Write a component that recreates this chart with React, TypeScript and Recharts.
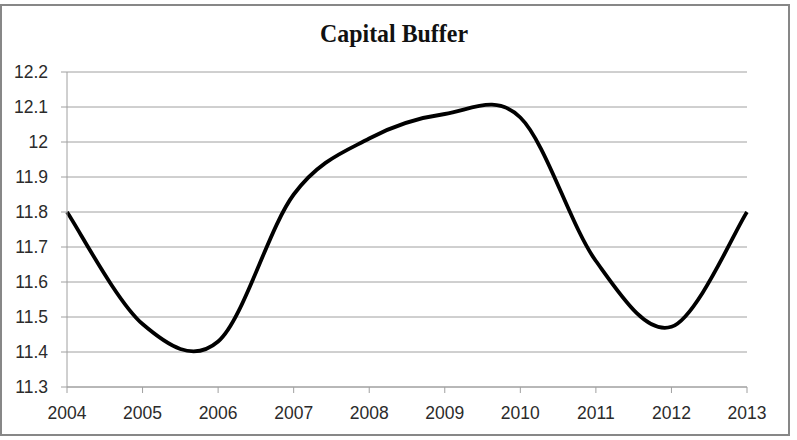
import React from "react";
import { LineChart, Line, XAxis, YAxis, CartesianGrid } from "recharts";

const years = ["2004", "2005", "2006", "2007", "2008", "2009", "2010", "2011", "2012", "2013"];
const capitalBuffer = [11.8, 11.48, 11.43, 11.85, 12.01, 12.08, 12.07, 11.66, 11.472, 11.8];
const yTicks = [11.3, 11.4, 11.5, 11.6, 11.7, 11.8, 11.9, 12, 12.1, 12.2];
const title = "Capital Buffer";

const data = years.map((y, i) => ({ year: y, value: capitalBuffer[i] }));

// Excel-style smoothed line (Catmull-Rom Bezier through the data points)
function excelSmooth(context: any) {
  let xs: number[] = [];
  let ys: number[] = [];
  return {
    areaStart() {},
    areaEnd() {},
    lineStart() {
      xs = [];
      ys = [];
    },
    point(x: number, y: number) {
      xs.push(+x);
      ys.push(+y);
    },
    lineEnd() {
      const n = xs.length;
      if (!n) return;
      context.moveTo(xs[0], ys[0]);
      for (let i = 0; i < n - 1; i++) {
        const i0 = Math.max(i - 1, 0);
        const i3 = Math.min(i + 2, n - 1);
        const c1x = xs[i] + (xs[i + 1] - xs[i0]) / 6;
        const c1y = ys[i] + (ys[i + 1] - ys[i0]) / 6;
        const c2x = xs[i + 1] - (xs[i3] - xs[i]) / 6;
        const c2y = ys[i + 1] - (ys[i3] - ys[i]) / 6;
        context.bezierCurveTo(c1x, c1y, c2x, c2y, xs[i + 1], ys[i + 1]);
      }
    },
  };
}

const FONT = "'Liberation Sans', Arial, sans-serif";
const GRID = "#a0a0a0";
const TEXT = "#2b2b2b";

export default function App() {
  return (
    <div style={{ position: "absolute", left: 0, top: 0, width: 797, height: 440, background: "#fff" }}>
      <LineChart
        width={797}
        height={440}
        data={data}
        margin={{ top: 72, right: 50, bottom: 23, left: 7 }}
      >
        <CartesianGrid vertical={false} stroke={GRID} strokeWidth={1} />
        <XAxis
          dataKey="year"
          height={30}
          stroke={GRID}
          tickSize={6}
          tickMargin={14}
          tick={{ fill: TEXT, fontSize: 17.5, fontFamily: FONT }}
          interval={0}
        />
        <YAxis
          width={60}
          domain={[11.3, 12.2]}
          ticks={yTicks}
          tickFormatter={(v: number) => String(v)}
          stroke={GRID}
          tickSize={6}
          tickMargin={13}
          tick={{ fill: TEXT, fontSize: 17.5, fontFamily: FONT }}
          interval={0}
        />
        <Line
          dataKey="value"
          type={excelSmooth as any}
          stroke="#000"
          strokeWidth={3.8}
          dot={false}
          activeDot={false}
          isAnimationActive={false}
        />
      </LineChart>
      <svg
        width={797}
        height={440}
        style={{ position: "absolute", left: 0, top: 0, pointerEvents: "none" }}
      >
        <rect x={1} y={5} width={788} height={430} fill="none" stroke="#878787" strokeWidth={2} />
        <text
          x={394}
          y={42}
          textAnchor="middle"
          fontFamily="'Liberation Serif', 'Times New Roman', serif"
          fontWeight="bold"
          fontSize={26}
          fill="#111"
          textLength={148}
          lengthAdjust="spacingAndGlyphs"
        >
          {title}
        </text>
      </svg>
    </div>
  );
}
